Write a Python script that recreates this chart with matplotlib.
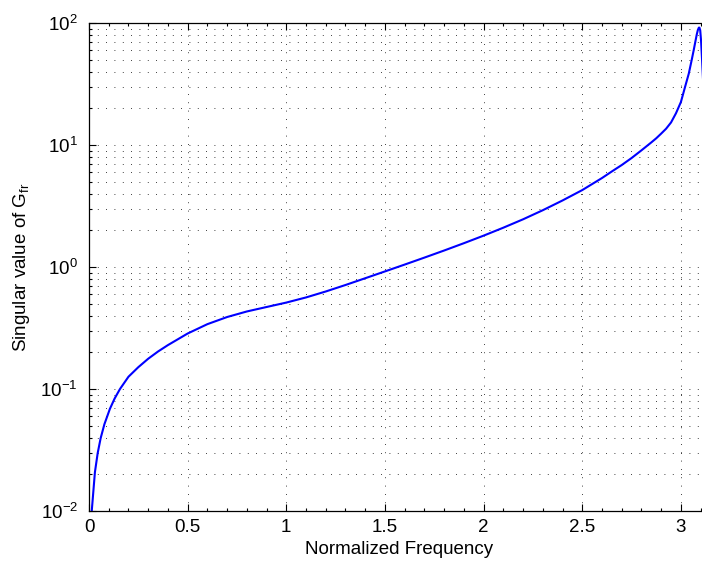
import numpy as np
import matplotlib
matplotlib.use("Agg")
import matplotlib.pyplot as plt
from matplotlib.ticker import LogLocator, MultipleLocator, NullFormatter

plt.rcParams["font.family"] = ["Liberation Sans", "DejaVu Sans"]
plt.rcParams["mathtext.fontset"] = "custom"
plt.rcParams["mathtext.rm"] = "Liberation Sans"
plt.rcParams["mathtext.it"] = "Liberation Sans"

# values
freq = [0.0137, 0.03, 0.044, 0.059, 0.078, 0.106, 0.13, 0.157, 0.2, 0.25, 0.3,
        0.35, 0.4, 0.5, 0.6, 0.7, 0.8, 0.9, 1.0, 1.1, 1.2,
        1.3, 1.4, 1.5, 1.6, 1.7, 1.8, 1.9, 2.0, 2.1, 2.2,
        2.3, 2.4, 2.5, 2.6, 2.65, 2.7, 2.75, 2.8, 2.85, 2.875, 2.9,
        2.925, 2.95, 2.975, 3.0, 3.02, 3.04, 3.055, 3.065, 3.073, 3.08, 3.086, 3.091,
        3.094, 3.098, 3.102, 3.107, 3.115]
sv = [0.0099, 0.0208, 0.0298, 0.0395, 0.0514, 0.0688, 0.0836, 0.1, 0.126, 0.151, 0.177,
      0.203, 0.229, 0.285, 0.340, 0.389, 0.432, 0.470, 0.511, 0.563, 0.630,
      0.712, 0.809, 0.920, 1.047, 1.194, 1.365, 1.567, 1.807, 2.10, 2.46,
      2.92, 3.51, 4.27, 5.36, 6.07, 6.85, 7.82, 9.04, 10.5, 11.35, 12.4,
      13.6, 15.3, 18.2, 22.5, 29.5, 38.5, 50.0, 60.0, 70.0, 80.0, 87.7, 91.6,
      91.6, 87.0, 72.4, 51.0, 28.0]

xticks = [0, 0.5, 1, 1.5, 2, 2.5, 3]
xtick_labels = ["0", "0.5", "1", "1.5", "2", "2.5", "3"]

fig = plt.figure(figsize=(7.02, 5.66), dpi=100)
ax = fig.add_axes([89 / 702, 55 / 566, np.pi * 197.3 / 702, 488 / 566])

ax.semilogy(freq, sv, color="#0000ff", linewidth=1.5)

ax.set_xlim(0, np.pi)
ax.set_ylim(1e-2, 1e2)
ax.set_xticks(xticks)
ax.set_xticklabels(xtick_labels)
ax.xaxis.set_minor_locator(MultipleLocator(0.1))
ax.yaxis.set_major_locator(LogLocator(base=10, numticks=10))
ax.yaxis.set_minor_locator(LogLocator(base=10, subs=np.arange(2, 10), numticks=20))
ax.yaxis.set_minor_formatter(NullFormatter())

ax.tick_params(which="both", direction="in", top=True, right=True, labelsize=13.5, width=0.8)
ax.tick_params(which="major", length=5)
ax.tick_params(which="minor", length=2.5)
ax.tick_params(axis="x", which="major", pad=6)
ax.tick_params(axis="y", which="major", pad=8)

grid_style = dict(color="black", linestyle=(0, (1, 9)), linewidth=0.6)
ax.grid(True, which="major", axis="both", **grid_style)
ax.grid(True, which="minor", axis="y", **grid_style)

for side in ax.spines.values():
    side.set_linewidth(0.9)

ax.set_xlabel("Normalized Frequency", fontsize=13.5, labelpad=3)
ax.set_ylabel("Singular value of G$_{fr}$", fontsize=13.5, labelpad=6)

fig.savefig("out.png", dpi=100)
